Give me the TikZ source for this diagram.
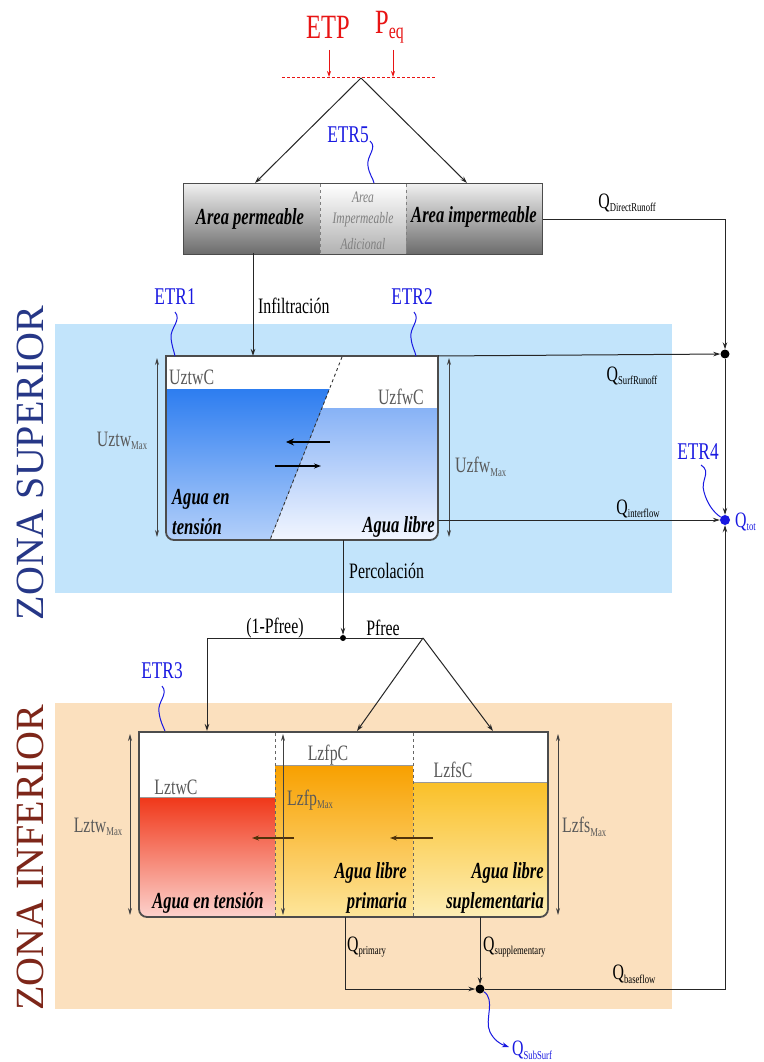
\documentclass[tikz,border=0pt]{standalone}
\usepackage{fontspec}
\setmainfont{Liberation Serif}[FakeStretch=0.72]
\newfontfamily\zonefont{Liberation Serif}
\usetikzlibrary{arrows.meta,calc}
\definecolor{etpred}{RGB}{232,20,20}
\definecolor{etrblue}{RGB}{25,25,225}
\definecolor{upbg}{RGB}{194,228,251}
\definecolor{lowbg}{RGB}{251,224,190}
\definecolor{supcol}{RGB}{38,55,135}
\definecolor{infcol}{RGB}{125,38,25}
\definecolor{twtop}{RGB}{45,125,240}
\definecolor{twbot}{RGB}{180,208,250}
\definecolor{fwtop}{RGB}{135,178,246}
\definecolor{fwbot}{RGB}{242,246,255}
\definecolor{redtop}{RGB}{240,55,25}
\definecolor{redbot}{RGB}{252,210,205}
\definecolor{ortop}{RGB}{248,160,0}
\definecolor{orbot}{RGB}{253,230,155}
\definecolor{yetop}{RGB}{250,192,40}
\definecolor{yebot}{RGB}{253,238,182}
\definecolor{arrbrown}{RGB}{80,50,10}
\newcommand\sbs[1]{\raisebox{-0.35ex}{\fontsize{12}{12}\selectfont #1}}
\begin{document}
\begin{tikzpicture}[x=1pt,y=-1pt,
  >={Stealth[length=7pt,width=4.5pt]},
  lbl/.style={font=\fontsize{22}{24}\selectfont, inner sep=0pt},
  glbl/.style={lbl, text=black!65},
  bi/.style={font=\fontsize{23}{25}\selectfont\bfseries\itshape, inner sep=0pt},
  midtxt/.style={font=\fontsize{16}{18}\selectfont\itshape, text=black!50, inner sep=0pt},
  etr/.style={font=\fontsize{24}{26}\selectfont, text=etrblue, inner sep=0pt},
  wiggle/.style={draw=etrblue, line width=1pt},
  flow/.style={draw=black!85, line width=1pt},
  dimarr/.style={{Stealth[length=7pt,width=4pt]}-{Stealth[length=7pt,width=4pt]}, draw=black!75, line width=0.8pt},
  tankline/.style={draw=black!70, line width=1.8pt},
  divline/.style={draw=black!60, dashed, line width=0.9pt},
  dot/.style={circle, fill=black, inner sep=0pt, minimum size=9pt}
]
\useasboundingbox (0,0) rectangle (763,1062);
\fill[white] (0,0) rectangle (763,1062);

% backgrounds
\fill[upbg] (55,324) rectangle (672,593);
\fill[lowbg] (55,703) rectangle (672,1009);

% zone labels
\node[rotate=90, font=\zonefont\fontsize{40}{40}\selectfont, text=supcol, inner sep=0pt] (zsup) at (30,463) {ZONA SUPERIOR};
\node[rotate=90, font=\zonefont\fontsize{40}{40}\selectfont, text=infcol, inner sep=0pt] (zinf) at (30,858) {ZONA INFERIOR};

% ETP / Peq
\node[font=\fontsize{34}{36}\selectfont, text=etpred, inner sep=0pt] (etp) at (328,27) {ETP};
\node[font=\fontsize{34}{36}\selectfont, text=etpred, inner sep=0pt, anchor=west] (peq) at (375,27) {P\raisebox{-0.3ex}{\fontsize{22}{22}\selectfont eq}};
\coordinate (dl) at (282,77);
\coordinate (dr) at (435,77);
\coordinate (apex) at (361,78);
\coordinate (etpt) at (329,77);
\coordinate (peqt) at (393,77);
\draw[etpred, dashed, dash pattern=on 3pt off 2pt, line width=0.8pt] (dl) -- (dr);
\draw[etpred, line width=0.8pt, -{Stealth[length=6pt,width=4pt]}] (329,50) -- (etpt);
\draw[etpred, line width=0.8pt, -{Stealth[length=6pt,width=4pt]}] (393,50) -- (peqt);

% area box
\node[draw=black!70, line width=1pt, top color=black!6, bottom color=black!58, minimum width=359pt, minimum height=71pt, inner sep=0pt, anchor=north west] (area) at (183,183) {};
\fill[top color=white, bottom color=black!30] (320,184) rectangle (406,253);
\draw[divline, draw=black!50] (320,184) -- (320,253);
\draw[divline, draw=black!50] (406,184) -- (406,253);
\node[bi] (perm) at (250,219) {Area permeable};
\node[bi] (imperm) at (474,217) {Area impermeable};
\node[midtxt] (m1) at (363,197) {Area};
\node[midtxt] (m2) at (363,220) {Impermeable};
\node[midtxt] (m3) at (363,244) {Adicional};
\coordinate (permtop) at (255,183);
\coordinate (impermtop) at (467,183);
\draw[flow,->] (apex) -- (permtop);
\draw[flow,->] (apex) -- (impermtop);
\node[etr] (etr5) at (348,135) {ETR5};
\draw[wiggle] (370,141) .. controls (378,148) and (366,156) .. (368,166) .. controls (369,174) and (373,178) .. (374,183);

% upper tank
\coordinate (utl) at (166,356);
\coordinate (utr) at (438,356);
\begin{scope}
\clip (166,356) -- (166,532) to[out=-90,in=180] (174,540) -- (430,540) to[out=0,in=-90] (438,532) -- (438,356) -- cycle;
\fill[white] (166,356) rectangle (438,540);
\fill[top color=twtop, bottom color=twbot] (166,389) -- (329.4,389) -- (270,540) -- (166,540) -- cycle;
\fill[top color=fwtop, bottom color=fwbot] (322,408) -- (438,408) -- (438,540) -- (270,540) -- cycle;
\end{scope}
\draw[divline, draw=black!80] (342,357) -- (270,540);
\draw[tankline] (166,356) -- (166,532) to[out=-90,in=180] (174,540) -- (430,540) to[out=0,in=-90] (438,532) -- (438,356) -- cycle;
\node[glbl, anchor=west] (uztwc) at (169,377) {UztwC};
\node[glbl, anchor=east] (uzfwc) at (424,397) {UzfwC};
\draw[line width=2.6pt, -{Stealth[length=8pt,width=7pt]}] (330,442) -- (286,442);
\draw[line width=1.2pt, -{Stealth[length=7pt,width=5pt]}] (275,466) -- (321,466);
\node[bi, anchor=west] (agen) at (172,499) {Agua en};
\node[bi, anchor=west] (tens) at (172,527) {tensión};
\node[bi, anchor=east] (alib) at (435,527) {Agua libre};
\draw[dimarr] (157,358) -- (157,537);
\draw[dimarr] (449,358) -- (449,537);
\node[glbl] (uztwmax) at (122,441) {Uztw\sbs{Max}};
\node[glbl, anchor=west] (uzfwmax) at (455,467) {Uzfw\sbs{Max}};

% infiltration
\coordinate (infb) at (253,253);
\coordinate (inft) at (253,356);
\draw[flow,->] (infb) -- (inft);
\node[lbl, anchor=west] (infl) at (258,306) {Infiltración};

\node[etr] (etr1) at (175,297) {ETR1};
\draw[wiggle] (175,312) .. controls (182,320) and (170,328) .. (171,338) .. controls (172,347) and (174,351) .. (175,356);
\node[etr] (etr2) at (412,297) {ETR2};
\draw[wiggle] (414,312) .. controls (421,320) and (409,328) .. (411,338) .. controls (412,347) and (415,351) .. (416,356);

% right collectors
\node[dot] (d1) at (725,354) {};
\node[dot, fill=etrblue, minimum size=10pt] (qtot) at (725,520) {};
\draw[flow,->] (area.east) -| (d1);
\node[lbl] (qdr) at (627,203) {Q\sbs{DirectRunoff}};
\draw[flow,->] (utr) -- (d1);
\node[lbl] (qsr) at (632,376) {Q\sbs{SurfRunoff}};
\coordinate (uint) at (438,520);
\draw[flow,->] (uint) -- (qtot);
\node[lbl] (qint) at (638,509) {Q\sbs{interflow}};
\draw[flow,->] (d1) -- (qtot);
\node[lbl, anchor=west, text=etrblue] (qtotl) at (735,522) {Q\sbs{tot}};
\node[etr] (etr4) at (698,452) {ETR4};
\draw[wiggle] (701,465) .. controls (712,472) and (700,480) .. (704,492) .. controls (707,503) and (713,512) .. (qtot);

% percolation
\coordinate (ubot) at (343,540);
\node[dot, minimum size=6pt] (dp) at (343,638) {};
\draw[flow,->] (ubot) -- (dp);
\node[lbl, anchor=west] (perc) at (349,571) {Percolación};
\coordinate (pl) at (207,638);
\coordinate (pr) at (423,638);
\coordinate (ltw) at (207,731);
\coordinate (lfp) at (357,731);
\coordinate (lfs) at (493,731);
\draw[flow] (dp) -- (pr);
\draw[flow,->] (dp) -| (ltw);
\draw[flow,->] (pr) -- (lfp);
\draw[flow,->] (pr) -- (lfs);
\node[lbl] (onep) at (275,628) {(1-Pfree)};
\node[lbl] (pfree) at (383,628) {Pfree};
\node[etr] (etr3) at (162,671) {ETR3};
\draw[wiggle] (162,686) .. controls (169,694) and (157,702) .. (159,712) .. controls (160,721) and (163,726) .. (165,731);

% lower tank
\begin{scope}
\clip (139,732) -- (139,909) to[out=-90,in=180] (147,917) -- (540,917) to[out=0,in=-90] (548,909) -- (548,732) -- cycle;
\fill[white] (139,732) rectangle (548,917);
\fill[top color=redtop, bottom color=redbot] (139,797) rectangle (275,917);
\fill[top color=ortop, bottom color=orbot] (275,765) rectangle (413,917);
\fill[top color=yetop, bottom color=yebot] (413,782) rectangle (548,917);
\end{scope}
\draw[black!40, line width=0.6pt] (139,797) -- (275,797);
\draw[black!40, line width=0.6pt] (275,765) -- (413,765);
\draw[black!40, line width=0.6pt] (413,782) -- (548,782);
\draw[divline] (275,733) -- (275,917);
\draw[divline] (413,733) -- (413,917);
\draw[tankline] (139,732) -- (139,909) to[out=-90,in=180] (147,917) -- (540,917) to[out=0,in=-90] (548,909) -- (548,732) -- cycle;
\node[glbl] (lztwc) at (176,787) {LztwC};
\node[glbl] (lzfpc) at (328,755) {LzfpC};
\node[glbl] (lzfsc) at (453,770) {LzfsC};
\node[glbl, anchor=west] (lzfpmax) at (287,800) {Lzfp\sbs{Max}};
\draw[line width=2pt, arrbrown, -{Stealth[length=7pt,width=5pt]}] (294,838) -- (252,838);
\draw[line width=2pt, arrbrown, -{Stealth[length=7pt,width=5pt]}] (433,838) -- (390,838);
\node[bi] (lagt) at (208,903) {Agua en tensión};
\node[bi, anchor=east] (lalp1) at (407,873) {Agua libre};
\node[bi, anchor=east] (lalp2) at (407,903) {primaria};
\node[bi, anchor=east] (lals1) at (544,873) {Agua libre};
\node[bi, anchor=east] (lals2) at (544,903) {suplementaria};
\draw[dimarr] (130,734) -- (130,915);
\draw[dimarr] (283,734) -- (283,915);
\draw[dimarr] (558,734) -- (558,915);
\node[glbl] (lztwmax) at (98,827) {Lztw\sbs{Max}};
\node[glbl, anchor=west] (lzfsmax) at (562,827) {Lzfs\sbs{Max}};

% lower outputs
\node[dot] (d3) at (480,989) {};
\coordinate (lpb) at (345,917);
\coordinate (lsb) at (480,917);
\draw[flow,->] (lpb) |- (d3);
\draw[flow,->] (lsb) -- (d3);
\draw[flow,->] (d3) -| (qtot);
\node[lbl, anchor=west] (qprim) at (347,947) {Q\sbs{primary}};
\node[lbl, anchor=west] (qsupp) at (483,947) {Q\sbs{supplementary}};
\node[lbl] (qbase) at (634,974) {Q\sbs{baseflow}};
\coordinate (subend) at (509,1047);
\draw[wiggle, -{Stealth[length=7pt,width=5pt]}] (d3) .. controls (496,1000) and (484,1020) .. (490,1032) .. controls (494,1040) and (500,1044) .. (subend);
\node[lbl, anchor=west, text=etrblue] (qsub) at (512,1050) {Q\sbs{SubSurf}};
\end{tikzpicture}
\end{document}
